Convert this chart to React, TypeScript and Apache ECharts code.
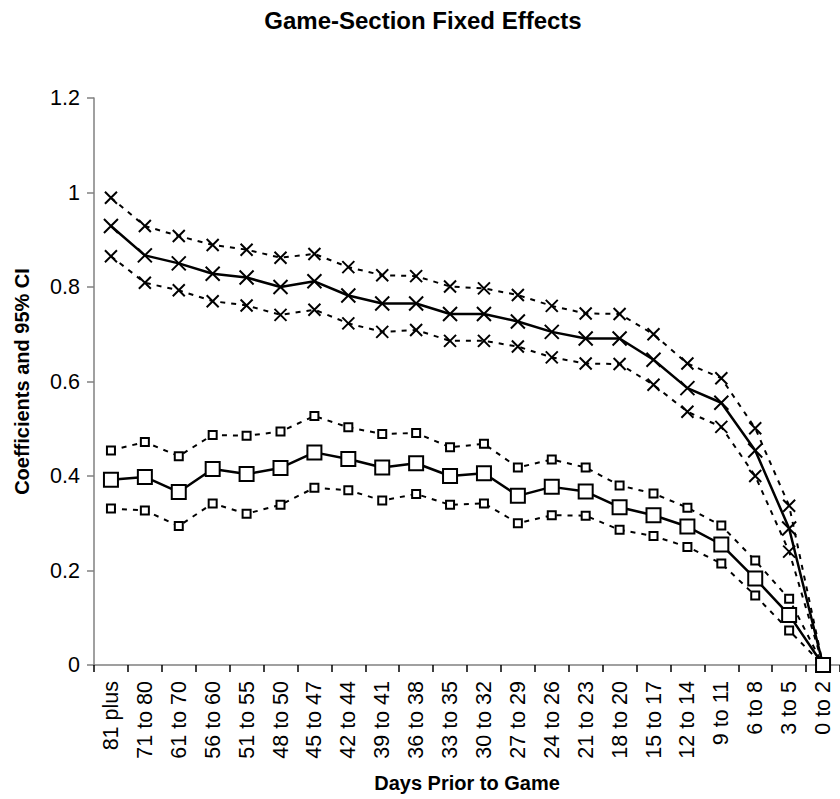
import React, { useEffect, useRef } from "react";
import * as echarts from "echarts";

// Days-prior-to-game buckets
const categories = [
  "81 plus", "71 to 80", "61 to 70", "56 to 60", "51 to 55", "48 to 50",
  "45 to 47", "42 to 44", "39 to 41", "36 to 38", "33 to 35", "30 to 32",
  "27 to 29", "24 to 26", "21 to 23", "18 to 20", "15 to 17", "12 to 14",
  "9 to 11", "6 to 8", "3 to 5", "0 to 2",
];

// Upper set (cross markers): coefficient with 95% CI bounds
const crossCoef = [0.929, 0.867, 0.85, 0.828, 0.82, 0.8, 0.812, 0.782, 0.765, 0.765, 0.743, 0.743, 0.727, 0.705, 0.691, 0.691, 0.646, 0.586, 0.555, 0.454, 0.289, 0];
const crossUpper = [0.989, 0.929, 0.908, 0.889, 0.879, 0.862, 0.87, 0.842, 0.825, 0.823, 0.801, 0.797, 0.783, 0.76, 0.744, 0.743, 0.7, 0.638, 0.607, 0.501, 0.337, 0];
const crossLower = [0.865, 0.809, 0.793, 0.77, 0.761, 0.741, 0.752, 0.723, 0.705, 0.709, 0.686, 0.686, 0.674, 0.651, 0.638, 0.637, 0.593, 0.536, 0.504, 0.4, 0.24, 0];

// Lower set (square markers): coefficient with 95% CI bounds
const squareCoef = [0.392, 0.398, 0.366, 0.415, 0.404, 0.417, 0.45, 0.436, 0.418, 0.427, 0.4, 0.406, 0.358, 0.377, 0.367, 0.334, 0.317, 0.293, 0.255, 0.183, 0.106, 0];
const squareUpper = [0.454, 0.472, 0.442, 0.487, 0.485, 0.494, 0.527, 0.503, 0.489, 0.491, 0.461, 0.468, 0.418, 0.435, 0.418, 0.38, 0.363, 0.333, 0.295, 0.221, 0.14, 0];
const squareLower = [0.331, 0.327, 0.294, 0.342, 0.32, 0.339, 0.375, 0.37, 0.348, 0.362, 0.339, 0.342, 0.3, 0.317, 0.316, 0.286, 0.273, 0.25, 0.215, 0.147, 0.073, 0];

const FONT = '"Liberation Sans", Arial, sans-serif';
const CROSS = "path://M0,0L10,10M10,0L0,10";

function ciSeries(data: number[], symbol: string, size: number) {
  return {
    type: "line",
    data,
    symbol,
    symbolSize: size,
    showAllSymbol: true,
    lineStyle: { color: "#000", width: 2, type: [5, 6] },
    itemStyle: { color: symbol === "rect" ? "#fff" : "#000", borderColor: "#000", borderWidth: 2 },
    emphasis: { disabled: true },
  };
}

function coefSeries(data: number[], symbol: string, size: number) {
  return {
    type: "line",
    data,
    symbol,
    symbolSize: size,
    showAllSymbol: true,
    lineStyle: { color: "#000", width: 2.5, type: "solid" },
    itemStyle: { color: symbol === "rect" ? "#fff" : "#000", borderColor: "#000", borderWidth: 2 },
    emphasis: { disabled: true },
  };
}

export default function App() {
  const ref = useRef<HTMLDivElement>(null);

  useEffect(() => {
    if (!ref.current) return;
    const chart = echarts.init(ref.current, null, { renderer: "svg" });
    chart.setOption({
      animation: false,
      backgroundColor: "#fff",
      graphic: [
        {
          type: "text",
          x: 423,
          y: 20,
          style: {
            text: "Game-Section Fixed Effects",
            font: `bold 24px ${FONT}`,
            fill: "#000",
            textAlign: "center",
            textVerticalAlign: "middle",
          },
        },
      ],
      grid: { left: 94, top: 98, width: 750, height: 567 },
      xAxis: {
        type: "category",
        data: categories,
        boundaryGap: true,
        name: "Days Prior to Game",
        nameLocation: "middle",
        nameGap: 108,
        nameTextStyle: { fontFamily: FONT, fontWeight: "bold", fontSize: 20, color: "#000" },
        axisLine: { lineStyle: { color: "#808080", width: 1.5 } },
        axisTick: { show: true, length: 7, lineStyle: { color: "#000", width: 1.5 } },
        axisLabel: { rotate: 90, margin: 16, fontFamily: FONT, fontSize: 21.5, color: "#000", interval: 0 },
        splitLine: { show: false },
      },
      yAxis: {
        type: "value",
        min: 0,
        max: 1.2,
        interval: 0.2,
        name: "Coefficients and 95% CI",
        nameLocation: "middle",
        nameGap: 62,
        nameRotate: 90,
        nameTextStyle: { fontFamily: FONT, fontWeight: "bold", fontSize: 20, color: "#000" },
        axisLine: { show: true, lineStyle: { color: "#808080", width: 1.5 } },
        axisTick: { show: true, length: 7, lineStyle: { color: "#808080", width: 1.5 } },
        axisLabel: { margin: 14, fontFamily: FONT, fontSize: 21.5, color: "#000" },
        splitLine: { show: false },
      },
      series: [
        ciSeries(crossUpper, CROSS, 12),
        ciSeries(crossLower, CROSS, 12),
        coefSeries(crossCoef, CROSS, 14),
        ciSeries(squareUpper, "rect", 8),
        ciSeries(squareLower, "rect", 8),
        coefSeries(squareCoef, "rect", 14),
      ],
    });
    return () => chart.dispose();
  }, []);

  return (
    <div
      ref={ref}
      style={{ position: "absolute", left: 0, top: 0, width: 840, height: 799 }}
    />
  );
}
